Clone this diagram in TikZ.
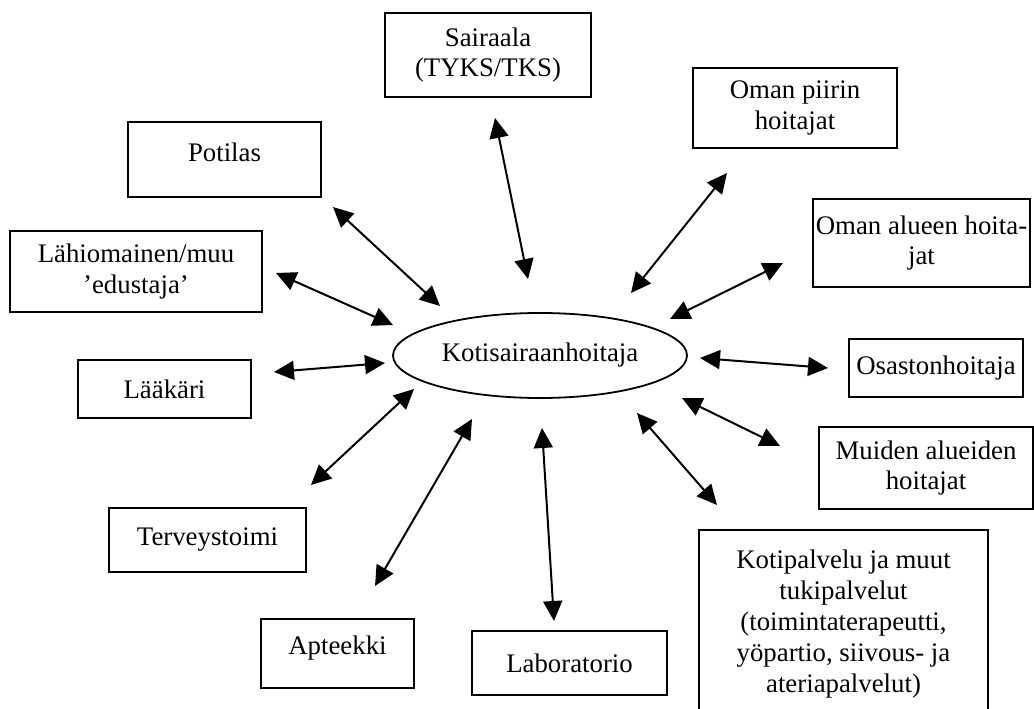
\documentclass[tikz,border=0pt]{standalone}
\usepackage{fontspec}
\setmainfont{Liberation Serif}
\usetikzlibrary{arrows.meta,shapes.geometric}
\tikzset{
  every node/.style={font=\fontsize{26.8}{30.8}\selectfont, align=center, inner sep=0pt},
  box/.style={draw, line width=1.8pt, rectangle},
  hub/.style={draw, line width=1.8pt, ellipse},
  arr/.style={line width=2pt, {Triangle[length=20pt,width=19pt]}-{Triangle[length=20pt,width=19pt]}}
}
\begin{document}
\begin{tikzpicture}[x=1pt,y=-1pt]
\useasboundingbox (0,0) rectangle (1034,709);
% central ellipse
\node[hub, minimum width=294pt, minimum height=85pt] (hub) at (540,355.5) {Kotisairaanhoitaja};
% boxes
\node[box, minimum width=206pt, minimum height=84pt] (sai) at (488,55) {Sairaala\\(TYKS/TKS)};
\node[box, minimum width=204pt, minimum height=80pt] (piiri) at (795,108) {Oman piirin\\hoitajat};
\node[box, minimum width=217pt, minimum height=88pt] (alue) at (921.5,243) {Oman alueen hoita-\\jat};
\node[box, minimum width=193pt, minimum height=75pt, text depth=14pt] (pot) at (224.5,159.5) {Potilas};
\node[box, minimum width=252pt, minimum height=81pt] (lah) at (136,271.5) {Lähiomainen/muu\\’edustaja’};
\node[box, minimum width=173pt, minimum height=58pt] (laa) at (164.5,389) {Lääkäri};
\node[box, minimum width=197pt, minimum height=64pt] (ter) at (207.5,540) {Terveystoimi};
\node[box, minimum width=153pt, minimum height=69pt, text depth=17pt] (apt) at (337.5,653.5) {Apteekki};
\node[box, minimum width=195pt, minimum height=64pt] (lab) at (569.5,663) {Laboratorio};
\node[box, minimum width=174pt, minimum height=58pt] (osa) at (936,368) {Osastonhoitaja};
\node[box, minimum width=214pt, minimum height=82pt] (mui) at (926,468) {Muiden alueiden\\hoitajat};
\node[box, minimum width=289pt, minimum height=188pt] (kot) at (843.5,624) {Kotipalvelu ja muut\\tukipalvelut\\(toimintaterapeutti,\\yöpartio, siivous- ja\\ateriapalvelut)};
% arrow end points
\coordinate (saiA) at (495,118);  \coordinate (saiB) at (528,279);
\coordinate (piiA) at (727,173);  \coordinate (piiB) at (631,293);
\coordinate (aluA) at (783,263);  \coordinate (aluB) at (670,319);
\coordinate (potA) at (333,207);  \coordinate (potB) at (440,306);
\coordinate (lahA) at (276,273);  \coordinate (lahB) at (393,325);
\coordinate (laaA) at (274,372);  \coordinate (laaB) at (385,363);
\coordinate (terA) at (311,485);  \coordinate (terB) at (414,389);
\coordinate (aptA) at (375,586);  \coordinate (aptB) at (472,419);
\coordinate (labA) at (554,621);  \coordinate (labB) at (542,428);
\coordinate (osaA) at (828,368);  \coordinate (osaB) at (700,358);
\coordinate (muiA) at (780,446);  \coordinate (muiB) at (682,398);
\coordinate (kotA) at (717,505);  \coordinate (kotB) at (637,413);
% arrows
\draw[arr] (saiA) -- (saiB);
\draw[arr] (piiA) -- (piiB);
\draw[arr] (aluA) -- (aluB);
\draw[arr] (potA) -- (potB);
\draw[arr] (lahA) -- (lahB);
\draw[arr] (laaA) -- (laaB);
\draw[arr] (terA) -- (terB);
\draw[arr] (aptA) -- (aptB);
\draw[arr] (labA) -- (labB);
\draw[arr] (osaA) -- (osaB);
\draw[arr] (muiA) -- (muiB);
\draw[arr] (kotA) -- (kotB);
\end{tikzpicture}
\end{document}
